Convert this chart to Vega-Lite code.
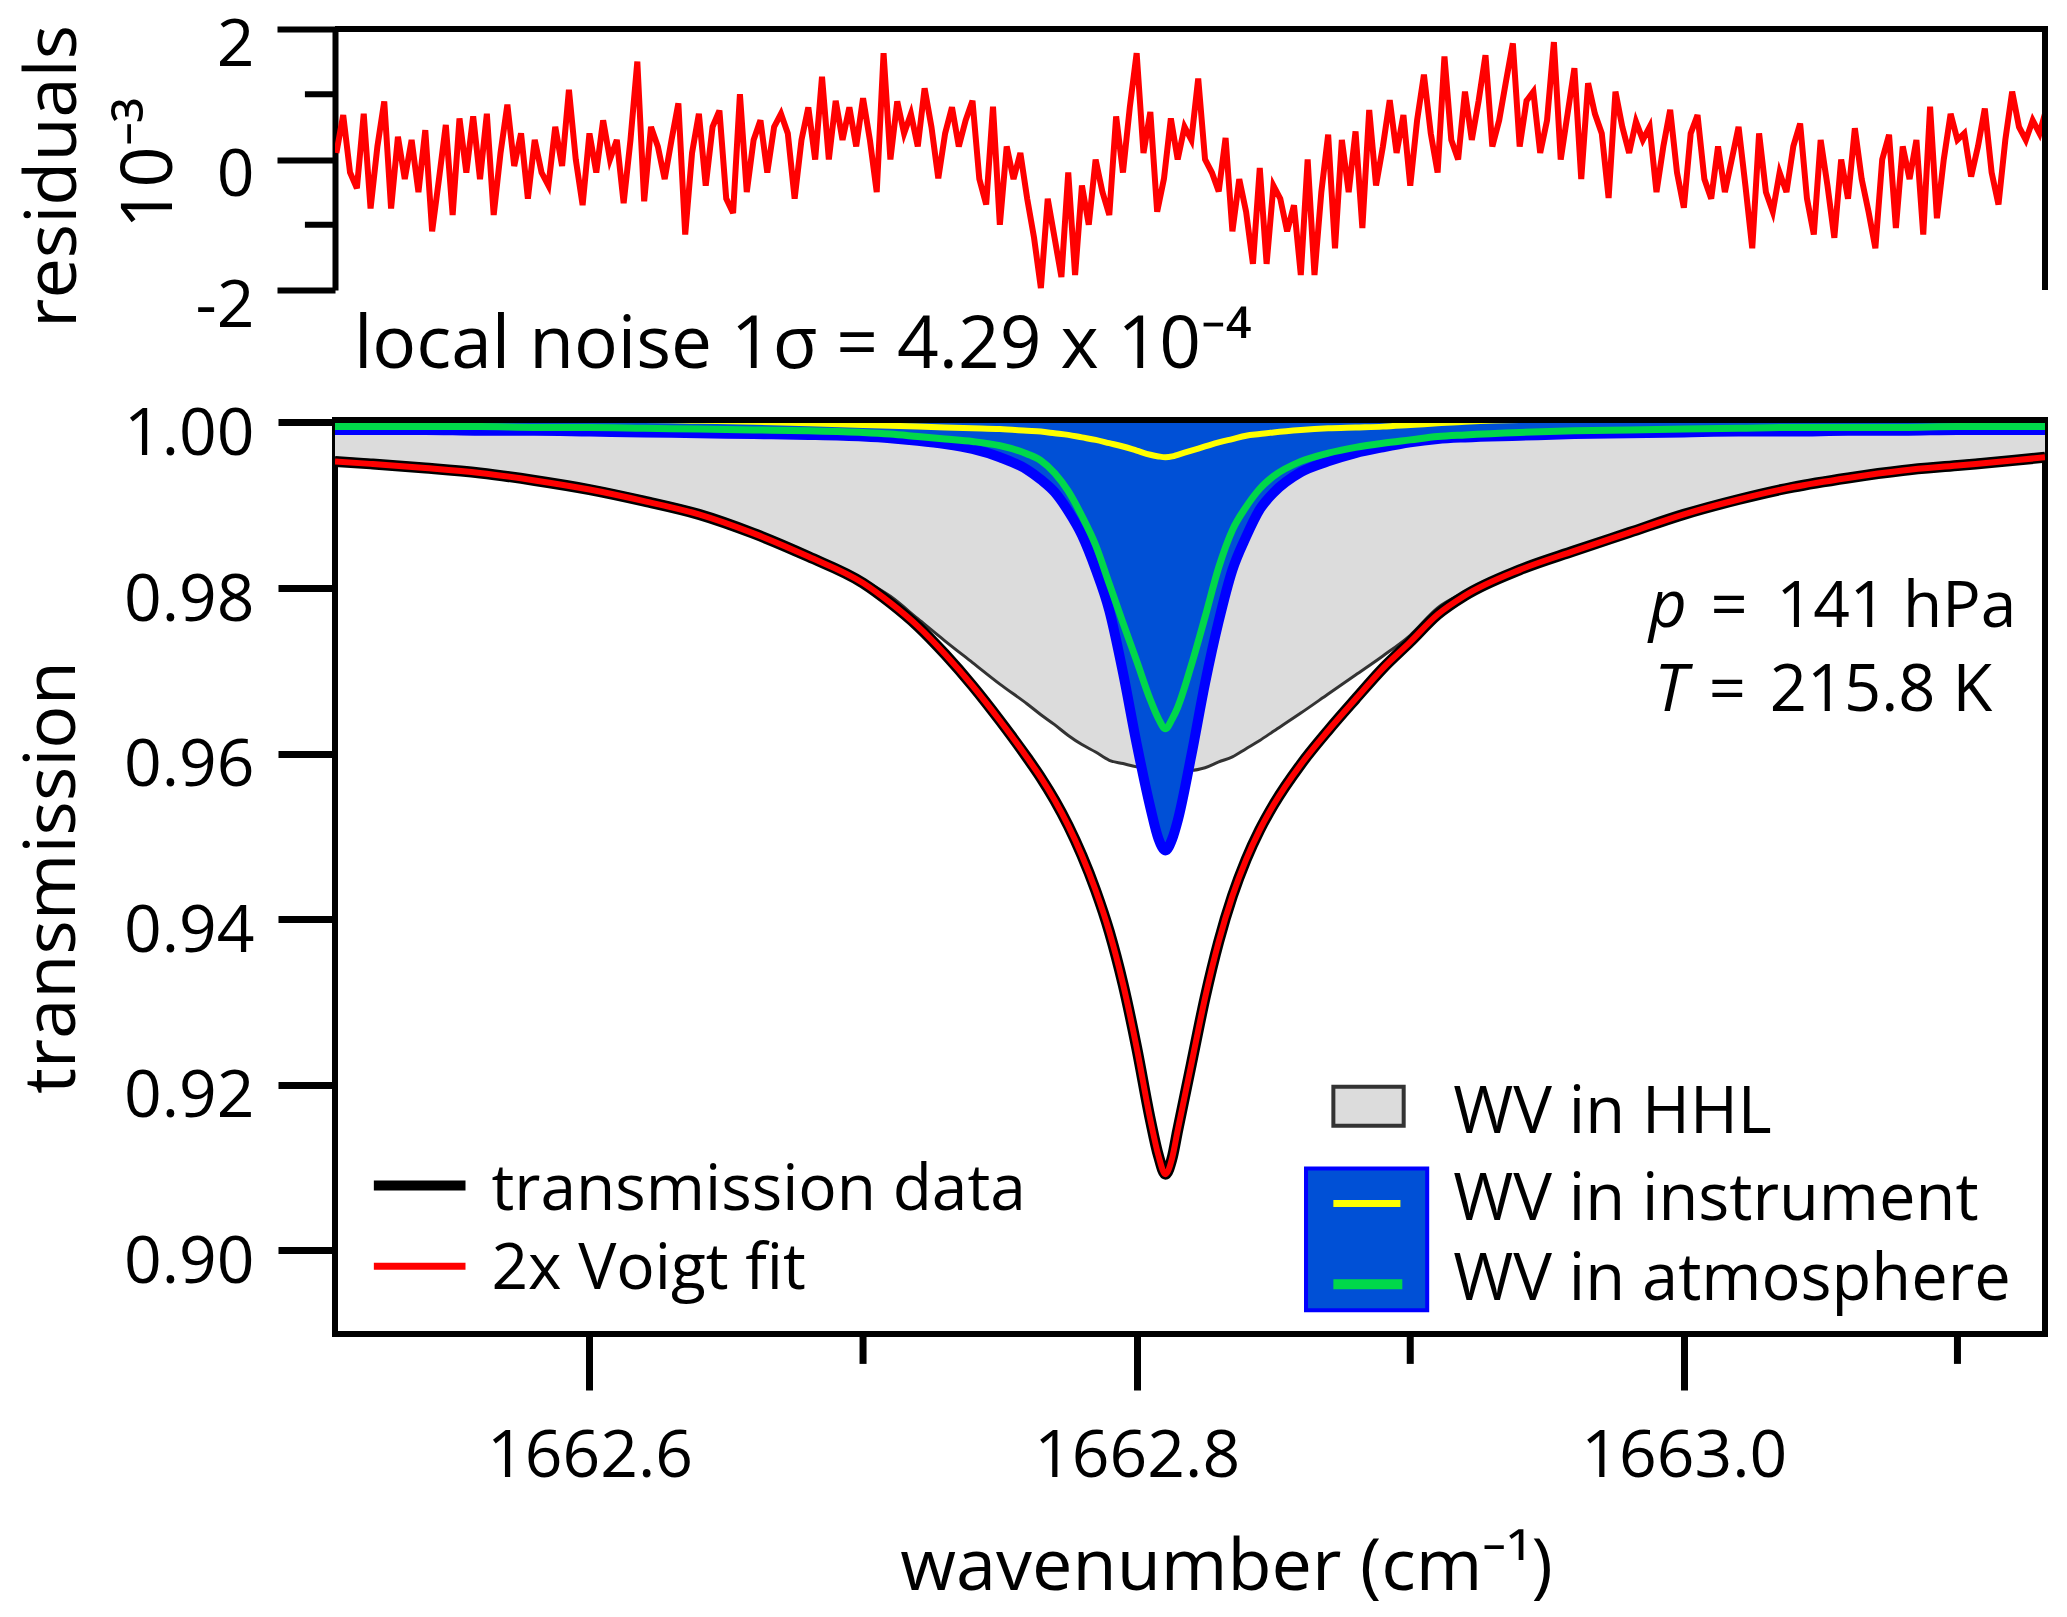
{
  "$schema": "https://vega.github.io/schema/vega-lite/v6.json",
  "background": "white",
  "padding": {"left": 13, "top": 12, "right": 10, "bottom": 5},
  "spacing": 130,
  "bounds": "flush",
  "resolve": {"scale": {"x": "independent", "y": "independent"}},
  "config": {
    "font": "Open Sans",
    "view": {"stroke": "black", "strokeWidth": 6},
    "axis": {"grid": false, "labelColor": "black", "titleColor": "black", "tickColor": "black", "domainColor": "black", "titleFontWeight": "normal", "labelFont": "Open Sans", "titleFont": "Open Sans", "labelLimit": 500}
  },
  "datasets": {
    "resid": [
      {"w":1662.5075,"r":0.1},{"w":1662.51,"r":0.68},{"w":1662.5125,"r":-0.2},{"w":1662.515,"r":-0.44},
      {"w":1662.5175,"r":0.7},{"w":1662.52,"r":-0.75},{"w":1662.5225,"r":0.2},{"w":1662.525,"r":0.89},
      {"w":1662.5275,"r":-0.75},{"w":1662.53,"r":0.35},{"w":1662.5325,"r":-0.3},{"w":1662.535,"r":0.3},
      {"w":1662.5375,"r":-0.5},{"w":1662.54,"r":0.45},{"w":1662.5425,"r":-1.1},{"w":1662.545,"r":-0.3},
      {"w":1662.5475,"r":0.53},{"w":1662.55,"r":-0.85},{"w":1662.5525,"r":0.63},{"w":1662.555,"r":-0.2},
      {"w":1662.5575,"r":0.66},{"w":1662.56,"r":-0.3},{"w":1662.5625,"r":0.7},{"w":1662.565,"r":-0.85},
      {"w":1662.5675,"r":0.1},{"w":1662.57,"r":0.84},{"w":1662.5725,"r":-0.1},{"w":1662.575,"r":0.4},
      {"w":1662.5775,"r":-0.6},{"w":1662.58,"r":0.3},{"w":1662.5825,"r":-0.2},{"w":1662.585,"r":-0.4},
      {"w":1662.5875,"r":0.5},{"w":1662.59,"r":-0.1},{"w":1662.5925,"r":1.07},{"w":1662.595,"r":0},
      {"w":1662.5975,"r":-0.7},{"w":1662.6,"r":0.4},{"w":1662.6025,"r":-0.2},{"w":1662.605,"r":0.6},
      {"w":1662.6075,"r":0},{"w":1662.61,"r":0.3},{"w":1662.6125,"r":-0.67},{"w":1662.615,"r":0.3},
      {"w":1662.6175,"r":1.5},{"w":1662.62,"r":-0.64},{"w":1662.6225,"r":0.5},{"w":1662.625,"r":0.2},
      {"w":1662.6275,"r":-0.3},{"w":1662.63,"r":0.3},{"w":1662.6325,"r":0.86},{"w":1662.635,"r":-1.15},
      {"w":1662.6375,"r":0.1},{"w":1662.64,"r":0.7},{"w":1662.6425,"r":-0.4},{"w":1662.645,"r":0.5},
      {"w":1662.6475,"r":0.75},{"w":1662.65,"r":-0.6},{"w":1662.6525,"r":-0.82},{"w":1662.655,"r":1.0},
      {"w":1662.6575,"r":-0.5},{"w":1662.66,"r":0.3},{"w":1662.6625,"r":0.6},{"w":1662.665,"r":-0.2},
      {"w":1662.6675,"r":0.5},{"w":1662.67,"r":0.7},{"w":1662.6725,"r":0.4},{"w":1662.675,"r":-0.6},
      {"w":1662.6775,"r":0.3},{"w":1662.68,"r":0.8},{"w":1662.6825,"r":0},{"w":1662.685,"r":1.27},
      {"w":1662.6875,"r":0},{"w":1662.69,"r":0.9},{"w":1662.6925,"r":0.3},{"w":1662.695,"r":0.8},
      {"w":1662.6975,"r":0.2},{"w":1662.7,"r":0.94},{"w":1662.7025,"r":0.3},{"w":1662.705,"r":-0.5},
      {"w":1662.7075,"r":1.63},{"w":1662.71,"r":0},{"w":1662.7125,"r":0.89},{"w":1662.715,"r":0.4},
      {"w":1662.7175,"r":0.7},{"w":1662.72,"r":0.2},{"w":1662.7225,"r":1.09},{"w":1662.725,"r":0.5},
      {"w":1662.7275,"r":-0.29},{"w":1662.73,"r":0.4},{"w":1662.7325,"r":0.8},{"w":1662.735,"r":0.2},
      {"w":1662.7375,"r":0.6},{"w":1662.74,"r":0.9},{"w":1662.7425,"r":-0.3},{"w":1662.745,"r":-0.69},
      {"w":1662.7475,"r":0.81},{"w":1662.75,"r":-1.0},{"w":1662.7525,"r":0.2},{"w":1662.755,"r":-0.3},
      {"w":1662.7575,"r":0.1},{"w":1662.76,"r":-0.6},{"w":1662.7625,"r":-1.2},{"w":1662.765,"r":-1.97},
      {"w":1662.7675,"r":-0.6},{"w":1662.77,"r":-1.2},{"w":1662.7725,"r":-1.8},{"w":1662.775,"r":-0.2},
      {"w":1662.7775,"r":-1.77},{"w":1662.78,"r":-0.4},{"w":1662.7825,"r":-1.0},{"w":1662.785,"r":0},
      {"w":1662.7875,"r":-0.5},{"w":1662.79,"r":-0.85},{"w":1662.7925,"r":0.66},{"w":1662.795,"r":-0.2},
      {"w":1662.7975,"r":0.8},{"w":1662.8,"r":1.63},{"w":1662.8025,"r":0.1},{"w":1662.805,"r":0.73},
      {"w":1662.8075,"r":-0.8},{"w":1662.81,"r":-0.29},{"w":1662.8125,"r":0.63},{"w":1662.815,"r":0},
      {"w":1662.8175,"r":0.5},{"w":1662.82,"r":0.3},{"w":1662.8225,"r":1.24},{"w":1662.825,"r":0},
      {"w":1662.8275,"r":-0.2},{"w":1662.83,"r":-0.49},{"w":1662.8325,"r":0.33},{"w":1662.835,"r":-1.1},
      {"w":1662.8375,"r":-0.3},{"w":1662.84,"r":-0.8},{"w":1662.8425,"r":-1.6},{"w":1662.845,"r":-0.13},
      {"w":1662.8475,"r":-1.6},{"w":1662.85,"r":-0.4},{"w":1662.8525,"r":-0.6},{"w":1662.855,"r":-1.1},
      {"w":1662.8575,"r":-0.7},{"w":1662.86,"r":-1.77},{"w":1662.8625,"r":0},{"w":1662.865,"r":-1.77},
      {"w":1662.8675,"r":-0.5},{"w":1662.87,"r":0.38},{"w":1662.8725,"r":-1.36},{"w":1662.875,"r":0.3},
      {"w":1662.8775,"r":-0.5},{"w":1662.88,"r":0.43},{"w":1662.8825,"r":-1.05},{"w":1662.885,"r":0.76},
      {"w":1662.8875,"r":-0.4},{"w":1662.89,"r":0.2},{"w":1662.8925,"r":0.91},{"w":1662.895,"r":0.1},
      {"w":1662.8975,"r":0.68},{"w":1662.9,"r":-0.4},{"w":1662.9025,"r":0.6},{"w":1662.905,"r":1.3},
      {"w":1662.9075,"r":0.4},{"w":1662.91,"r":-0.2},{"w":1662.9125,"r":1.58},{"w":1662.915,"r":0.3},
      {"w":1662.9175,"r":0},{"w":1662.92,"r":1.04},{"w":1662.9225,"r":0.3},{"w":1662.925,"r":0.9},
      {"w":1662.9275,"r":1.6},{"w":1662.93,"r":0.2},{"w":1662.9325,"r":0.6},{"w":1662.935,"r":1.2},
      {"w":1662.9375,"r":1.78},{"w":1662.94,"r":0.2},{"w":1662.9425,"r":0.9},{"w":1662.945,"r":1.04},
      {"w":1662.9475,"r":0.1},{"w":1662.95,"r":0.6},{"w":1662.9525,"r":1.8},{"w":1662.955,"r":0},
      {"w":1662.9575,"r":0.7},{"w":1662.96,"r":1.4},{"w":1662.9625,"r":-0.3},{"w":1662.965,"r":1.17},
      {"w":1662.9675,"r":0.7},{"w":1662.97,"r":0.4},{"w":1662.9725,"r":-0.59},{"w":1662.975,"r":1.04},
      {"w":1662.9775,"r":0.5},{"w":1662.98,"r":0.1},{"w":1662.9825,"r":0.58},{"w":1662.985,"r":0.3},
      {"w":1662.9875,"r":0.5},{"w":1662.99,"r":-0.5},{"w":1662.9925,"r":0.2},{"w":1662.995,"r":0.76},
      {"w":1662.9975,"r":-0.2},{"w":1663.0,"r":-0.74},{"w":1663.0025,"r":0.4},{"w":1663.005,"r":0.68},
      {"w":1663.0075,"r":-0.3},{"w":1663.01,"r":-0.6},{"w":1663.0125,"r":0.2},{"w":1663.015,"r":-0.5},
      {"w":1663.0175,"r":0},{"w":1663.02,"r":0.5},{"w":1663.0225,"r":-0.4},{"w":1663.025,"r":-1.36},
      {"w":1663.0275,"r":0.4},{"w":1663.03,"r":-0.5},{"w":1663.0325,"r":-0.8},{"w":1663.035,"r":-0.2},
      {"w":1663.0375,"r":-0.5},{"w":1663.04,"r":0.2},{"w":1663.0425,"r":0.55},{"w":1663.045,"r":-0.6},
      {"w":1663.0475,"r":-1.15},{"w":1663.05,"r":0.3},{"w":1663.0525,"r":-0.4},{"w":1663.055,"r":-1.2},
      {"w":1663.0575,"r":0},{"w":1663.06,"r":-0.6},{"w":1663.0625,"r":0.48},{"w":1663.065,"r":-0.3},
      {"w":1663.0675,"r":-0.8},{"w":1663.07,"r":-1.36},{"w":1663.0725,"r":0},{"w":1663.075,"r":0.38},
      {"w":1663.0775,"r":-1.05},{"w":1663.08,"r":0.2},{"w":1663.0825,"r":-0.3},{"w":1663.085,"r":0.3},
      {"w":1663.0875,"r":-1.15},{"w":1663.09,"r":0.81},{"w":1663.0925,"r":-0.9},{"w":1663.095,"r":0},
      {"w":1663.0975,"r":0.7},{"w":1663.1,"r":0.3},{"w":1663.1025,"r":0.4},{"w":1663.105,"r":-0.26},
      {"w":1663.1075,"r":0.2},{"w":1663.11,"r":0.78},{"w":1663.1125,"r":-0.2},{"w":1663.115,"r":-0.69},
      {"w":1663.1175,"r":0.3},{"w":1663.12,"r":1.04},{"w":1663.1225,"r":0.5},{"w":1663.125,"r":0.3},
      {"w":1663.1275,"r":0.6},{"w":1663.13,"r":0.4},{"w":1663.132,"r":0.7}
    ],
    "spec": [
      {"w":1662.507,"fit":0.9953,"hhl":0.9957,"blue":0.9991,"atm":0.9995,"inst":1.0003},
      {"w":1662.52,"fit":0.995,"hhl":0.9954,"blue":0.9991,"atm":0.9995,"inst":1.0003},
      {"w":1662.54,"fit":0.9945,"hhl":0.9949,"blue":0.9991,"atm":0.9995,"inst":1.0003},
      {"w":1662.56,"fit":0.9939,"hhl":0.9943,"blue":0.999,"atm":0.9995,"inst":1.0003},
      {"w":1662.58,"fit":0.993,"hhl":0.9934,"blue":0.999,"atm":0.9994,"inst":1.0003},
      {"w":1662.6,"fit":0.9919,"hhl":0.9923,"blue":0.9989,"atm":0.9994,"inst":1.0003},
      {"w":1662.62,"fit":0.9905,"hhl":0.9909,"blue":0.9988,"atm":0.9993,"inst":1.0003},
      {"w":1662.64,"fit":0.9889,"hhl":0.9893,"blue":0.9987,"atm":0.9992,"inst":1.0002},
      {"w":1662.66,"fit":0.9866,"hhl":0.987,"blue":0.9986,"atm":0.9991,"inst":1.0001},
      {"w":1662.68,"fit":0.9838,"hhl":0.9842,"blue":0.9985,"atm":0.999,"inst":0.9999},
      {"w":1662.7,"fit":0.9806,"hhl":0.981,"blue":0.9983,"atm":0.9988,"inst":0.9997},
      {"w":1662.71,"fit":0.9782,"hhl":0.979,"blue":0.9981,"atm":0.9986,"inst":0.9996},
      {"w":1662.72,"fit":0.9754,"hhl":0.9763,"blue":0.9978,"atm":0.9983,"inst":0.9995},
      {"w":1662.73,"fit":0.972,"hhl":0.9736,"blue":0.9974,"atm":0.998,"inst":0.9994},
      {"w":1662.74,"fit":0.9682,"hhl":0.971,"blue":0.9968,"atm":0.9977,"inst":0.9993},
      {"w":1662.75,"fit":0.964,"hhl":0.9684,"blue":0.9958,"atm":0.9972,"inst":0.9992},
      {"w":1662.76,"fit":0.9595,"hhl":0.966,"blue":0.9943,"atm":0.9962,"inst":0.999},
      {"w":1662.765,"fit":0.9571,"hhl":0.9647,"blue":0.9931,"atm":0.9954,"inst":0.9989},
      {"w":1662.77,"fit":0.9544,"hhl":0.9635,"blue":0.9916,"atm":0.9939,"inst":0.9987},
      {"w":1662.775,"fit":0.9513,"hhl":0.9622,"blue":0.9893,"atm":0.9917,"inst":0.9985},
      {"w":1662.78,"fit":0.9477,"hhl":0.9611,"blue":0.9864,"atm":0.9887,"inst":0.9982},
      {"w":1662.785,"fit":0.9435,"hhl":0.9602,"blue":0.9823,"atm":0.9852,"inst":0.9979},
      {"w":1662.79,"fit":0.9385,"hhl":0.9592,"blue":0.9773,"atm":0.9805,"inst":0.9975},
      {"w":1662.795,"fit":0.9322,"hhl":0.9588,"blue":0.9698,"atm":0.9758,"inst":0.9971},
      {"w":1662.8,"fit":0.9245,"hhl":0.9584,"blue":0.9612,"atm":0.9712,"inst":0.9966},
      {"w":1662.805,"fit":0.9158,"hhl":0.9581,"blue":0.9535,"atm":0.9665,"inst":0.9961},
      {"w":1662.808,"fit":0.9114,"hhl":0.958,"blue":0.9497,"atm":0.9642,"inst":0.9959},
      {"w":1662.8105,"fit":0.9092,"hhl":0.958,"blue":0.9483,"atm":0.963,"inst":0.9958},
      {"w":1662.813,"fit":0.9112,"hhl":0.958,"blue":0.9497,"atm":0.9642,"inst":0.9959},
      {"w":1662.815,"fit":0.9145,"hhl":0.958,"blue":0.9519,"atm":0.9656,"inst":0.9961},
      {"w":1662.82,"fit":0.9225,"hhl":0.958,"blue":0.9598,"atm":0.9707,"inst":0.9966},
      {"w":1662.825,"fit":0.9305,"hhl":0.9583,"blue":0.9685,"atm":0.9765,"inst":0.9971},
      {"w":1662.83,"fit":0.9373,"hhl":0.959,"blue":0.976,"atm":0.9825,"inst":0.9976},
      {"w":1662.835,"fit":0.9428,"hhl":0.9596,"blue":0.9822,"atm":0.987,"inst":0.998},
      {"w":1662.84,"fit":0.9472,"hhl":0.9606,"blue":0.9862,"atm":0.9898,"inst":0.9984},
      {"w":1662.845,"fit":0.9508,"hhl":0.9616,"blue":0.9895,"atm":0.992,"inst":0.9986},
      {"w":1662.85,"fit":0.9538,"hhl":0.9627,"blue":0.9915,"atm":0.9935,"inst":0.9988},
      {"w":1662.86,"fit":0.9587,"hhl":0.9649,"blue":0.994,"atm":0.9953,"inst":0.9991},
      {"w":1662.87,"fit":0.9628,"hhl":0.9672,"blue":0.9953,"atm":0.9963,"inst":0.9993},
      {"w":1662.88,"fit":0.9666,"hhl":0.9695,"blue":0.9963,"atm":0.997,"inst":0.9994},
      {"w":1662.89,"fit":0.9703,"hhl":0.9718,"blue":0.997,"atm":0.9975,"inst":0.9995},
      {"w":1662.9,"fit":0.9735,"hhl":0.9743,"blue":0.9976,"atm":0.9979,"inst":0.9997},
      {"w":1662.91,"fit":0.9768,"hhl":0.9776,"blue":0.998,"atm":0.9983,"inst":0.9999},
      {"w":1662.92,"fit":0.9791,"hhl":0.9795,"blue":0.9982,"atm":0.9985,"inst":1.0001},
      {"w":1662.94,"fit":0.9822,"hhl":0.9826,"blue":0.9984,"atm":0.9988,"inst":1.0003},
      {"w":1662.96,"fit":0.9845,"hhl":0.9849,"blue":0.9986,"atm":0.999,"inst":1.0003},
      {"w":1662.98,"fit":0.9867,"hhl":0.9871,"blue":0.9987,"atm":0.9991,"inst":1.0003},
      {"w":1663.0,"fit":0.9889,"hhl":0.9893,"blue":0.9988,"atm":0.9992,"inst":1.0003},
      {"w":1663.02,"fit":0.9907,"hhl":0.9911,"blue":0.9989,"atm":0.9993,"inst":1.0003},
      {"w":1663.04,"fit":0.9922,"hhl":0.9926,"blue":0.9989,"atm":0.9994,"inst":1.0003},
      {"w":1663.06,"fit":0.9933,"hhl":0.9937,"blue":0.999,"atm":0.9994,"inst":1.0003},
      {"w":1663.08,"fit":0.9942,"hhl":0.9946,"blue":0.999,"atm":0.9994,"inst":1.0003},
      {"w":1663.1,"fit":0.9948,"hhl":0.9952,"blue":0.9991,"atm":0.9995,"inst":1.0003},
      {"w":1663.12,"fit":0.9954,"hhl":0.9958,"blue":0.9991,"atm":0.9995,"inst":1.0003},
      {"w":1663.132,"fit":0.9958,"hhl":0.9962,"blue":0.9991,"atm":0.9995,"inst":1.0003}
    ],
    "minorx": [{"w":1662.7},{"w":1662.9},{"w":1663.1}],
    "minory": [{"r":-1},{"r":1}],
    "one": [{}]
  },
  "vconcat": [
    {
      "width": 1710,
      "height": 261,
      "view": {"stroke": null},
      "layer": [
        {
          "data": {"name": "resid"},
          "mark": {"type": "line", "color": "#ff0000", "strokeWidth": 6, "clip": true},
          "encoding": {
            "x": {"field": "w", "type": "quantitative", "scale": {"domain": [1662.507, 1663.132], "nice": false, "zero": false}, "axis": null},
            "y": {"field": "r", "type": "quantitative", "scale": {"domain": [-2, 2], "nice": false},
              "axis": {"values": [-2, 0, 2], "labelExpr": "toString(datum.value)", "tickSize": 58, "tickWidth": 6, "domainWidth": 6,
                "labelPadding": 23, "labelOffset": 16, "labelFontSize": 66, "title": "residuals", "titleFontSize": 72,
                "titleX": -260, "titleY": 147, "titleBaseline": "alphabetic", "titleAngle": 270}}
          }
        },
        {
          "data": {"name": "minory"},
          "mark": {"type": "rule", "color": "black", "strokeWidth": 6},
          "encoding": {"y": {"field": "r", "type": "quantitative"}, "x": {"datum": 1662.496}, "x2": {"datum": 1662.507}}
        },
        {
          "data": {"name": "one"},
          "mark": {"type": "rule", "color": "black", "strokeWidth": 6},
          "encoding": {"y": {"datum": 2}, "x": {"datum": 1662.507}, "x2": {"datum": 1663.1331}}
        },
        {
          "data": {"name": "one"},
          "mark": {"type": "rule", "color": "black", "strokeWidth": 6},
          "encoding": {"x": {"datum": 1663.132}, "y": {"datum": -2}, "y2": {"datum": 2}}
        },
        {
          "data": {"name": "one"},
          "mark": {"type": "text", "text": "10⁻³", "fontSize": 72, "angle": 270, "align": "center", "baseline": "alphabetic", "color": "black"},
          "encoding": {"x": {"datum": 1662.4473}, "y": {"datum": -0.054}}
        },
        {
          "data": {"name": "one"},
          "mark": {"type": "text", "text": "local noise 1σ = 4.29 x 10⁻⁴", "fontSize": 73, "align": "left", "baseline": "alphabetic", "color": "black"},
          "encoding": {"x": {"datum": 1662.5139}, "y": {"datum": -3.195}}
        }
      ]
    },
    {
      "width": 1710,
      "height": 914,
      "data": {"name": "spec"},
      "layer": [
        {
          "mark": {"type": "area", "color": "#dcdcdc", "clip": true, "interpolate": "monotone"},
          "encoding": {
            "x": {"field": "w", "type": "quantitative", "scale": {"domain": [1662.507, 1663.132], "nice": false, "zero": false},
              "axis": {"values": [1662.6, 1662.8, 1663.0], "format": ".1f", "tickSize": 56, "tickWidth": 7, "domain": false,
                "labelPadding": 34, "labelFontSize": 66, "title": "wavenumber (cm⁻¹)", "titleFontSize": 72,
                "titleX": 891, "titleY": 255, "titleBaseline": "alphabetic"}},
            "y": {"field": "hhl", "type": "quantitative", "scale": {"domain": [0.8899, 1.0003], "nice": false, "zero": false},
              "axis": {"values": [0.9, 0.92, 0.94, 0.96, 0.98, 1.0], "format": ".2f", "tickSize": 57, "tickWidth": 7, "domain": false,
                "labelPadding": 24, "labelOffset": 12, "labelFontSize": 66, "title": "transmission", "titleFontSize": 72,
                "titleX": -261, "titleBaseline": "alphabetic", "titleAngle": 270}},
            "y2": {"datum": 1.0}
          }
        },
        {
          "mark": {"type": "line", "color": "#333333", "strokeWidth": 3, "clip": true, "interpolate": "monotone"},
          "encoding": {"x": {"field": "w", "type": "quantitative"}, "y": {"field": "hhl", "type": "quantitative"}}
        },
        {
          "mark": {"type": "area", "color": "#0050d6", "clip": true, "interpolate": "monotone"},
          "encoding": {"x": {"field": "w", "type": "quantitative"}, "y": {"field": "blue", "type": "quantitative"}, "y2": {"datum": 1.0003}}
        },
        {
          "mark": {"type": "line", "color": "#0000ff", "strokeWidth": 10, "clip": true, "interpolate": "monotone"},
          "encoding": {"x": {"field": "w", "type": "quantitative"}, "y": {"field": "blue", "type": "quantitative"}}
        },
        {
          "mark": {"type": "line", "color": "#00d84a", "strokeWidth": 7, "clip": true, "interpolate": "monotone"},
          "encoding": {"x": {"field": "w", "type": "quantitative"}, "y": {"field": "atm", "type": "quantitative"}}
        },
        {
          "mark": {"type": "line", "color": "#ffff00", "strokeWidth": 6, "clip": true, "interpolate": "monotone"},
          "encoding": {"x": {"field": "w", "type": "quantitative"}, "y": {"field": "inst", "type": "quantitative"}}
        },
        {
          "mark": {"type": "line", "color": "#000000", "strokeWidth": 11, "clip": true, "interpolate": "monotone"},
          "encoding": {"x": {"field": "w", "type": "quantitative"}, "y": {"field": "fit", "type": "quantitative"}}
        },
        {
          "mark": {"type": "line", "color": "#ff0000", "strokeWidth": 6, "clip": true, "interpolate": "monotone"},
          "encoding": {"x": {"field": "w", "type": "quantitative"}, "y": {"field": "fit", "type": "quantitative"}}
        },
        {
          "data": {"name": "one"},
          "mark": {"type": "rule", "color": "black", "strokeWidth": 6},
          "encoding": {"y": {"datum": 1.0003}, "x": {"datum": 1662.507}, "x2": {"datum": 1663.132}}
        },
        {
          "data": {"name": "minorx"},
          "mark": {"type": "rule", "color": "black", "strokeWidth": 7},
          "encoding": {"x": {"field": "w", "type": "quantitative"}, "y": {"datum": 0.8899}, "y2": {"datum": 0.88629}}
        },
        {
          "data": {"name": "one"},
          "mark": {"type": "rule", "color": "black", "strokeWidth": 10},
          "encoding": {"x": {"datum": 1662.5212}, "x2": {"datum": 1662.5547}, "y": {"datum": 0.90783}}
        },
        {
          "data": {"name": "one"},
          "mark": {"type": "rule", "color": "#ff0000", "strokeWidth": 7},
          "encoding": {"x": {"datum": 1662.5212}, "x2": {"datum": 1662.5547}, "y": {"datum": 0.89807}}
        },
        {
          "data": {"name": "one"},
          "mark": {"type": "text", "text": "transmission data", "fontSize": 64, "align": "left", "baseline": "alphabetic", "color": "black"},
          "encoding": {"x": {"datum": 1662.5642}, "y": {"datum": 0.90482}}
        },
        {
          "data": {"name": "one"},
          "mark": {"type": "text", "text": "2x Voigt fit", "fontSize": 64, "align": "left", "baseline": "alphabetic", "color": "black"},
          "encoding": {"x": {"datum": 1662.5642}, "y": {"datum": 0.8953}}
        },
        {
          "data": {"name": "one"},
          "mark": {"type": "rect", "fill": "#dcdcdc", "stroke": "#333333", "strokeWidth": 4},
          "encoding": {"x": {"datum": 1662.8719}, "x2": {"datum": 1662.8976}, "y": {"datum": 0.91976}, "y2": {"datum": 0.91506}}
        },
        {
          "data": {"name": "one"},
          "mark": {"type": "rect", "fill": "#0050d6", "stroke": "#0000ff", "strokeWidth": 4},
          "encoding": {"x": {"datum": 1662.8619}, "x2": {"datum": 1662.9062}, "y": {"datum": 0.90988}, "y2": {"datum": 0.89277}}
        },
        {
          "data": {"name": "one"},
          "mark": {"type": "rule", "color": "#ffff00", "strokeWidth": 7},
          "encoding": {"x": {"datum": 1662.8719}, "x2": {"datum": 1662.8964}, "y": {"datum": 0.90566}}
        },
        {
          "data": {"name": "one"},
          "mark": {"type": "rule", "color": "#00d84a", "strokeWidth": 10},
          "encoding": {"x": {"datum": 1662.8719}, "x2": {"datum": 1662.8971}, "y": {"datum": 0.8959}}
        },
        {
          "data": {"name": "one"},
          "mark": {"type": "text", "text": "WV in HHL", "fontSize": 65, "align": "left", "baseline": "alphabetic", "color": "black"},
          "encoding": {"x": {"datum": 1662.9157}, "y": {"datum": 0.91422}}
        },
        {
          "data": {"name": "one"},
          "mark": {"type": "text", "text": "WV in instrument", "fontSize": 65, "align": "left", "baseline": "alphabetic", "color": "black"},
          "encoding": {"x": {"datum": 1662.9157}, "y": {"datum": 0.90361}}
        },
        {
          "data": {"name": "one"},
          "mark": {"type": "text", "text": "WV in atmosphere", "fontSize": 65, "align": "left", "baseline": "alphabetic", "color": "black"},
          "encoding": {"x": {"datum": 1662.9157}, "y": {"datum": 0.89398}}
        },
        {
          "data": {"name": "one"},
          "mark": {"type": "text", "text": "p", "fontStyle": "italic", "fontSize": 66, "align": "left", "baseline": "alphabetic", "color": "black"},
          "encoding": {"x": {"datum": 1662.9872}, "y": {"datum": 0.9753}}
        },
        {
          "data": {"name": "one"},
          "mark": {"type": "text", "text": "=", "fontSize": 65, "align": "left", "baseline": "alphabetic", "color": "black"},
          "encoding": {"x": {"datum": 1663.0097}, "y": {"datum": 0.9753}}
        },
        {
          "data": {"name": "one"},
          "mark": {"type": "text", "text": "141 hPa", "fontSize": 64, "align": "left", "baseline": "alphabetic", "color": "black"},
          "encoding": {"x": {"datum": 1663.0339}, "y": {"datum": 0.9753}}
        },
        {
          "data": {"name": "one"},
          "mark": {"type": "text", "text": "T", "fontStyle": "italic", "fontSize": 66, "align": "left", "baseline": "alphabetic", "color": "black"},
          "encoding": {"x": {"datum": 1662.9892}, "y": {"datum": 0.9651}}
        },
        {
          "data": {"name": "one"},
          "mark": {"type": "text", "text": "=", "fontSize": 65, "align": "left", "baseline": "alphabetic", "color": "black"},
          "encoding": {"x": {"datum": 1663.0091}, "y": {"datum": 0.9651}}
        },
        {
          "data": {"name": "one"},
          "mark": {"type": "text", "text": "215.8 K", "fontSize": 65, "align": "left", "baseline": "alphabetic", "color": "black"},
          "encoding": {"x": {"datum": 1663.0314}, "y": {"datum": 0.9651}}
        }
      ]
    }
  ]
}
